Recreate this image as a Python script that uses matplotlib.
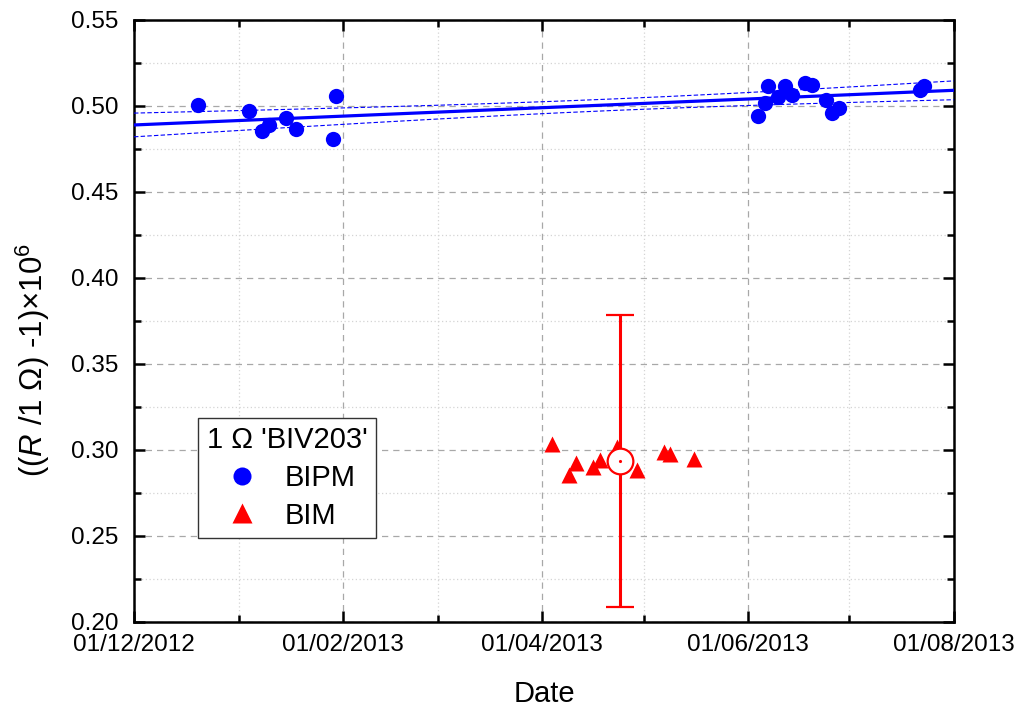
import matplotlib
matplotlib.use("Agg")
import matplotlib.pyplot as plt
import matplotlib.dates as mdates
from matplotlib.lines import Line2D
import numpy as np
import pandas as pd

# BIPM measurements of the 1 ohm resistor
bipm_dates = ["2012-12-20", "2013-01-04", "2013-01-08", "2013-01-10", "2013-01-15",
              "2013-01-18", "2013-01-29", "2013-01-30",
              "2013-06-04", "2013-06-06", "2013-06-07", "2013-06-10", "2013-06-12",
              "2013-06-14", "2013-06-18", "2013-06-20", "2013-06-24", "2013-06-26",
              "2013-06-28", "2013-07-22", "2013-07-23"]
bipm_vals = [0.5007, 0.4968, 0.4856, 0.4889, 0.4933, 0.4866, 0.4808, 0.5059,
             0.4941, 0.5017, 0.5117, 0.5053, 0.5117, 0.5061, 0.5134, 0.5123,
             0.5034, 0.4962, 0.4991, 0.5092, 0.5117]

# BIM measurements
bim_dates = ["2013-04-04", "2013-04-09", "2013-04-11", "2013-04-16", "2013-04-18",
             "2013-04-23", "2013-04-29", "2013-05-07", "2013-05-09", "2013-05-16"]
bim_vals = [0.3037, 0.2853, 0.2925, 0.2902, 0.2940, 0.3018, 0.2882, 0.2989,
            0.2979, 0.2945]

# BIM mean value with its uncertainty
bim_mean_date = "2013-04-24"
bim_mean = 0.2937
bim_unc = 0.0849

x_start = "2012-12-01"
x_end = "2013-08-01"

FONT = "Liberation Sans"
plt.rcParams['font.family'] = [FONT, 'DejaVu Sans']
plt.rcParams['mathtext.fontset'] = 'custom'
plt.rcParams['mathtext.rm'] = FONT
plt.rcParams['mathtext.it'] = FONT + ':italic'

bx = mdates.date2num(pd.to_datetime(bipm_dates))
by = np.array(bipm_vals)
mx = mdates.date2num(pd.to_datetime(bim_dates))
x0 = mdates.date2num(pd.Timestamp(x_start))
x1 = mdates.date2num(pd.Timestamp(x_end))

# linear fit with 95 % confidence band
slope, icpt = np.polyfit(bx, by, 1)
n = bx.size
resid = by - (slope * bx + icpt)
s = np.sqrt(np.sum(resid ** 2) / (n - 2))
sxx = np.sum((bx - bx.mean()) ** 2)
t95 = 2.093
xf = np.linspace(x0, x1, 200)
yf = slope * xf + icpt
band = t95 * s * np.sqrt(1.0 / n + (xf - bx.mean()) ** 2 / sxx)

fig = plt.figure(figsize=(10.22, 7.11), dpi=100)
ax = fig.add_axes([0.1311, 0.1252, 0.8023, 0.8467])

ax.plot(xf, yf, color='#0000ff', lw=2.3, zorder=3)
ax.plot(xf, yf + band, color='#0000ff', lw=0.8, ls=(0, (4, 2)), zorder=3)
ax.plot(xf, yf - band, color='#0000ff', lw=0.8, ls=(0, (4, 2)), zorder=3)

ax.plot(bx, by, 'o', color='#0000ff', ms=11, mec='none', zorder=4)
ax.plot(mx, bim_vals, '^', color='#ff0000', ms=11.5, mec='none', zorder=4)

mdx = mdates.date2num(pd.Timestamp(bim_mean_date))
ax.errorbar([mdx], [bim_mean], yerr=[bim_unc], fmt='o', ms=18.5, mfc='white',
            mec='#ff0000', mew=1.6, ecolor='#ff0000', elinewidth=2.2,
            capsize=10, capthick=2.2, zorder=5)
ax.plot([mdx], [bim_mean], '.', color='#ff0000', ms=2.5, zorder=6)

ax.set_xlim(x0, x1)
ax.set_ylim(0.20, 0.55)

ax.xaxis.set_major_locator(mdates.MonthLocator(bymonth=[2, 4, 6, 8, 12]))
ax.xaxis.set_minor_locator(mdates.MonthLocator())
ax.xaxis.set_major_formatter(mdates.DateFormatter("%d/%m/%Y"))
ax.set_yticks(np.arange(0.20, 0.551, 0.05))
ax.set_yticks(np.arange(0.225, 0.55, 0.05), minor=True)
ax.yaxis.set_major_formatter(matplotlib.ticker.FormatStrFormatter('%.2f'))

ax.grid(which='major', color='#a8a8a8', ls=(0, (5, 4)), lw=0.9, zorder=0)
ax.grid(which='minor', color='#d4d4d4', ls=(0, (1, 2)), lw=0.9, zorder=0)

ax.tick_params(which='both', direction='in', top=True, right=True,
               width=1.8, labelsize=17.5)
ax.tick_params(axis='x', which='both', pad=9)
ax.tick_params(axis='y', which='both', pad=11)
ax.tick_params(which='major', length=8)
ax.tick_params(which='minor', length=5)
for sp in ax.spines.values():
    sp.set_linewidth(1.8)

ax.set_xlabel("Date", fontsize=21, labelpad=17)
ax.set_ylabel(r"(($R$ /1 Ω) -1)×10$^{6}$", fontsize=22.5)
ax.yaxis.set_label_coords(-0.1, 0.435)

handles = [Line2D([], [], ls='none', marker='o', color='#0000ff', ms=13, mec='none'),
           Line2D([], [], ls='none', marker='^', color='#ff0000', ms=14, mec='none')]
leg = ax.legend(handles, ["BIPM", "BIM"], title="1 Ω 'BIV203'",
                loc='lower left', bbox_to_anchor=(0.078, 0.139), borderaxespad=0,
                fontsize=21, title_fontsize=21, frameon=True, fancybox=False,
                edgecolor='#333333', framealpha=1, handletextpad=0.65,
                labelspacing=0.33, borderpad=0.3, handlelength=1.6)
leg.get_frame().set_linewidth(1.0)

fig.savefig("out.png", dpi=100)
